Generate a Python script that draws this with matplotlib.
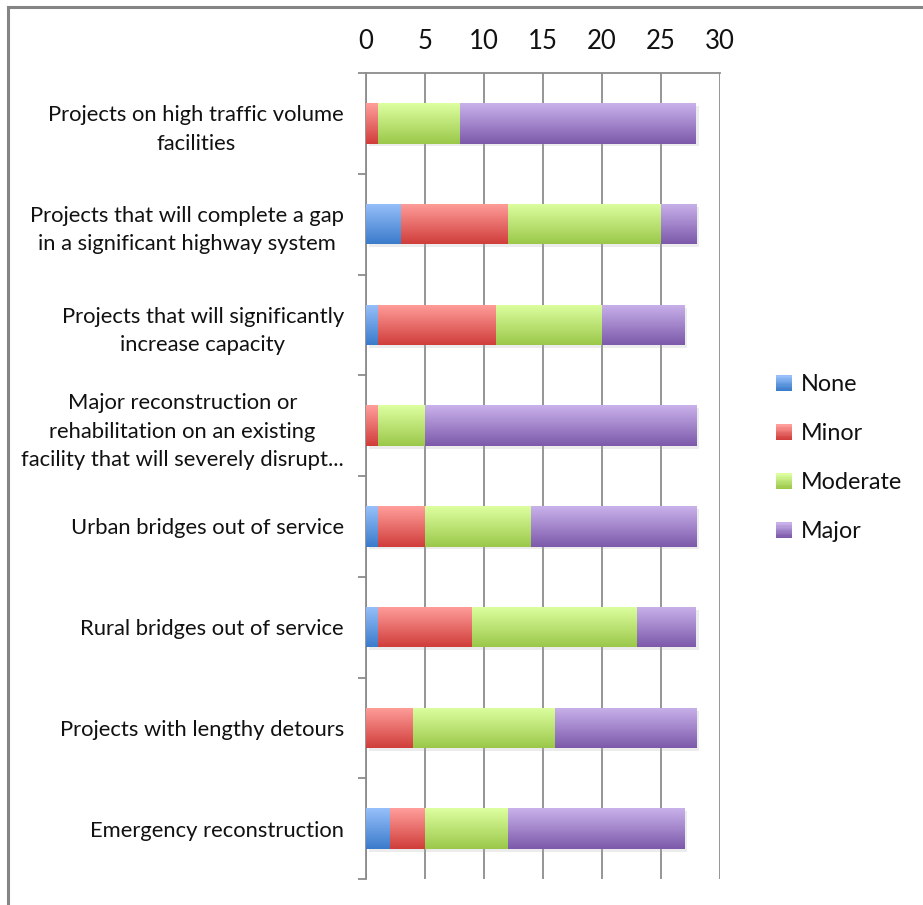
import numpy as np
import matplotlib
matplotlib.use("Agg")
import matplotlib.pyplot as plt
from matplotlib.patches import Rectangle
from matplotlib.legend_handler import HandlerPatch
from matplotlib.lines import Line2D
import matplotlib.patheffects as pe
from matplotlib.colors import to_rgb

plt.rcParams['font.family'] = ['Lato', 'DejaVu Sans']

categories = [
    "Projects on high traffic volume\nfacilities",
    "Projects that will complete a gap\nin a significant highway system",
    "Projects that will significantly\nincrease capacity",
    "Major reconstruction or\nrehabilitation on an existing\nfacility that will severely disrupt...",
    "Urban bridges out of service",
    "Rural bridges out of service",
    "Projects with lengthy detours",
    "Emergency reconstruction",
]
series_names = ["None", "Minor", "Moderate", "Major"]
none_vals = [0, 3, 1, 0, 1, 1, 0, 2]
minor_vals = [1, 9, 10, 1, 4, 8, 4, 3]
moderate_vals = [7, 13, 9, 4, 9, 14, 12, 7]
major_vals = [20, 3, 7, 23, 14, 5, 12, 15]
x_ticks = [0, 5, 10, 15, 20, 25, 30]

series_vals = [none_vals, minor_vals, moderate_vals, major_vals]
# (top colour, bottom colour) of the vertical gradient in each series
grad_colors = [
    ("#97c0fa", "#3b7bcb"),
    ("#ff9e9b", "#d03e3b"),
    ("#ddffa0", "#9bc84a"),
    ("#c9b2eb", "#7c59aa"),
]

W, H = 923, 905
fig = plt.figure(figsize=(W / 100, H / 100), dpi=100)
fig.patch.set_facecolor("white")

ax = fig.add_axes([366 / W, 1 - 879 / H, (720 - 366) / W, (879 - 73) / H])

y = np.arange(len(categories))
bar_h = 0.4
left = np.zeros(len(categories))
patches_by_series = []
for vals, (ctop, cbot), name in zip(series_vals, grad_colors, series_names):
    mid = tuple((np.array(to_rgb(ctop)) + np.array(to_rgb(cbot))) / 2)
    bars = ax.barh(y, vals, left=left, height=bar_h, color=mid, label=name,
                   linewidth=0, zorder=3,
                   path_effects=[pe.SimplePatchShadow(offset=(2, -2), shadow_rgbFace="#aaaaaa", alpha=0.22),
                                 pe.Normal()])
    patches_by_series.append(bars)
    left = left + np.array(vals)

# vertical gradient fill clipped to every bar segment
for bars, (ctop, cbot) in zip(patches_by_series, grad_colors):
    t = np.linspace(0, 1, 64)[:, None]
    c0 = np.array(to_rgb(ctop))
    c1 = np.array(to_rgb(cbot))
    grad = (c0[None, :] * (1 - t) + c1[None, :] * t)[:, None, :]
    for p in bars:
        w = p.get_width()
        if w <= 0:
            continue
        x0, y0 = p.get_x(), p.get_y()
        im = ax.imshow(grad, extent=(x0, x0 + w, y0 + p.get_height(), y0),
                       aspect="auto", interpolation="bilinear", zorder=4)
        im.set_clip_path(p)

ax.set_xlim(0, 30)
ax.set_ylim(len(categories) - 0.5, -0.5)
ax.xaxis.tick_top()
ax.set_xticks(x_ticks)
ax.set_xticklabels([str(v) for v in x_ticks])
ax.tick_params(axis="x", length=0, pad=14, labelsize=18.5, labelcolor="#111111")
ax.set_yticks(y)
ax.set_yticklabels(categories, multialignment="center", linespacing=1.52)
ax.tick_params(axis="y", which="major", length=0, pad=16, labelsize=15.8, labelcolor="#111111")
ax.set_yticks(np.arange(-0.5, len(categories)), minor=True)
ax.tick_params(axis="y", which="minor", length=6, width=1.3, color="#8c8c8c", direction="out")
ax.grid(axis="x", color="#8c8c8c", linewidth=1.3, zorder=0)
ax.set_axisbelow(True)
for s in ("right", "bottom"):
    ax.spines[s].set_visible(False)
for s in ("left", "top"):
    ax.spines[s].set_color("#8c8c8c")
    ax.spines[s].set_linewidth(1.3)


class GradientHandler(HandlerPatch):
    def __init__(self, ctop, cbot, **kw):
        super().__init__(**kw)
        self.ctop = np.array(to_rgb(ctop))
        self.cbot = np.array(to_rgb(cbot))

    def create_artists(self, legend, orig_handle, xdescent, ydescent, width, height, fontsize, trans):
        n = 12
        size = min(width, height)
        x0 = -xdescent + (width - size) / 2
        y0 = -ydescent + (height - size) / 2
        arts = []
        for i in range(n):
            t = i / (n - 1)
            c = self.cbot * (1 - t) + self.ctop * t
            r = Rectangle((x0, y0 + size * i / n), size, size / n + 0.2,
                          facecolor=c, edgecolor="none", transform=trans)
            arts.append(r)
        return arts


handles = [bars[0] for bars in patches_by_series]
handler_map = {h: GradientHandler(ct, cb) for h, (ct, cb) in zip(handles, grad_colors)}
leg = fig.legend(handles, series_names, handler_map=handler_map, frameon=False,
                 loc="upper left", bbox_to_anchor=(767 / W, 1 - 365 / H),
                 fontsize=16.8, handlelength=0.68, handleheight=0.68, handletextpad=0.36,
                 labelspacing=1.2, borderaxespad=0)
for t in leg.get_texts():
    t.set_color("#111111")

# outer chart border (top and left edges)
fig.add_artist(Line2D([8 / W, 1], [1 - 7 / H, 1 - 7 / H], color="#858585", linewidth=2.2,
                      transform=fig.transFigure))
fig.add_artist(Line2D([8 / W, 8 / W], [0, 1 - 7 / H], color="#858585", linewidth=2.2,
                      transform=fig.transFigure))

fig.savefig("out.png", dpi=100, facecolor="white")
